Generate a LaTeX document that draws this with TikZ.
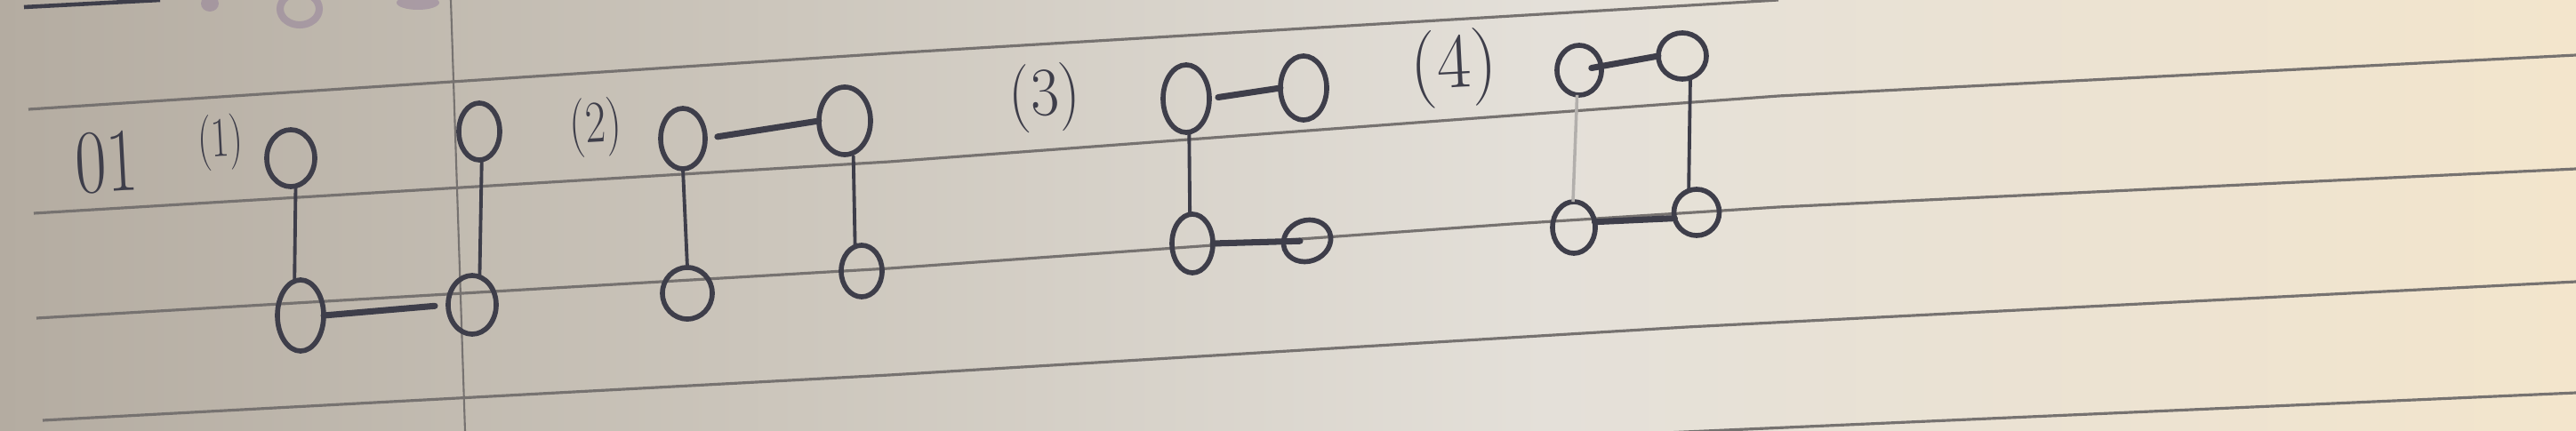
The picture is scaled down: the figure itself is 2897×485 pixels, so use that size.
\documentclass[tikz,border=0pt]{standalone}
\usetikzlibrary{shapes.geometric,calc}
\definecolor{ink}{RGB}{62,62,74}
\definecolor{faint}{RGB}{178,175,172}
\definecolor{rule}{RGB}{118,114,112}
\definecolor{pL}{RGB}{180,172,161}
\definecolor{pM1}{RGB}{204,198,188}
\definecolor{pM2}{RGB}{228,224,217}
\definecolor{pR}{RGB}{243,229,204}
\definecolor{bleed}{RGB}{140,118,150}
\pgfdeclarehorizontalshading{paper}{100bp}{color(0bp)=(pL); color(25bp)=(pL); color(40bp)=(pM1); color(55bp)=(pM2); color(75bp)=(pR); color(100bp)=(pR)}
\tikzset{
  vtx/.style={ellipse, draw=ink, line width=1.6pt, inner sep=0pt, outer sep=0pt},
  edge/.style={draw=ink, line width=1.1pt, line cap=round},
  thickedge/.style={draw=ink, line width=2pt, line cap=round},
  faintedge/.style={draw=faint, line width=1pt},
  ruled/.style={draw=rule, line width=0.9pt},
  lbl/.style={text=ink, inner sep=0pt, rotate=3},
}
\begin{document}
\begin{tikzpicture}[x=0.01cm,y=-0.01cm]
\useasboundingbox (0,0) rectangle (2897,485);
\clip (0,0) rectangle (2897,485);
\shade[shading=paper] (0,0) rectangle (2897,485);
% bleed-through from the other side
\begin{scope}[opacity=0.45]
  \draw[bleed, line width=2.3pt] (337,10) ellipse (22 and 18);
  \fill[bleed] (236,4) ellipse (10 and 9);
  \fill[bleed] (470,3) ellipse (24 and 8);
\end{scope}
% ruled lines
\draw[ruled, line width=1.3pt, draw=ink] (27,8) -- (180,0);
\draw[ruled] (32,123) -- (1000,60) -- (2000,0);
\draw[ruled] (38,240) -- (1000,182) -- (1700,130) -- (2000,108) -- (2897,62);
\draw[ruled] (41,358) -- (1000,302) -- (1700,252) -- (2000,233) -- (2897,190);
\draw[ruled] (48,473) -- (1000,422) -- (1897,368) -- (2897,317);
\draw[ruled] (1850,488) -- (2897,442);
% margin line
\draw[draw=rule, line width=0.6pt] (507,0) -- (523,485);
% labels
\node[lbl, font=\fontsize{29}{31}\selectfont, xscale=0.75] (n01) at (120,183) {01};
\node[lbl, font=\fontsize{18}{20}\selectfont, xscale=0.7] (lab1) at (248,160) {(1)};
\node[lbl, font=\fontsize{19}{21}\selectfont, xscale=0.75] (lab2) at (670,143) {(2)};
\node[lbl, font=\fontsize{22}{24}\selectfont, xscale=0.9] (lab3) at (1175,110) {(3)};
\node[lbl, font=\fontsize{25}{27}\selectfont, xscale=0.95] (lab4) at (1635,77) {(4)};
% group 1
\node[vtx, minimum width=0.54cm, minimum height=0.64cm] (tl1) at (327,178) {};
\node[vtx, minimum width=0.52cm, minimum height=0.80cm] (bl1) at (338,355) {};
\node[vtx, minimum width=0.46cm, minimum height=0.64cm] (tr1) at (539,148) {};
\node[vtx, minimum width=0.54cm, minimum height=0.66cm] (br1) at (531,343) {};
% group 2
\node[vtx, minimum width=0.50cm, minimum height=0.68cm] (tl2) at (768,156) {};
\node[vtx, minimum width=0.58cm, minimum height=0.76cm] (tr2) at (950,136) {};
\node[vtx, minimum width=0.56cm, minimum height=0.58cm] (bl2) at (773,330) {};
\node[vtx, minimum width=0.46cm, minimum height=0.58cm] (br2) at (969,305) {};
% group 3
\node[vtx, minimum width=0.52cm, minimum height=0.76cm] (tl3) at (1334,111) {};
\node[vtx, minimum width=0.52cm, minimum height=0.72cm] (tr3) at (1466,99) {};
\node[vtx, minimum width=0.46cm, minimum height=0.66cm] (bl3) at (1341,274) {};
\node[vtx, minimum width=0.54cm, minimum height=0.46cm, rotate=20] (br3) at (1470,271) {};
% group 4
\node[vtx, minimum width=0.50cm, minimum height=0.56cm] (tl4) at (1776,79) {};
\node[vtx, minimum width=0.54cm, minimum height=0.52cm] (tr4) at (1892,63) {};
\node[vtx, minimum width=0.48cm, minimum height=0.58cm] (bl4) at (1770,256) {};
\node[vtx, minimum width=0.51cm, minimum height=0.52cm] (br4) at (1908,239) {};
% connectors
\draw[edge] (tl1.-80) -- (bl1.100);
\draw[edge] (tr1.-85) -- (br1.75);
\draw[thickedge, shorten >=0.15cm] (bl1.east) -- (br1.west);
\draw[edge] (tl2.south) -- (bl2.north);
\draw[thickedge, shorten <=0.14cm] (tl2.east) -- (tr2.west);
\draw[edge, shorten <=0.04cm] (tr2.-75) -- (br2.105);
\draw[thickedge, shorten <=0.1cm] (tl3.east) -- (tr3.west);
\draw[edge] (tl3.-85) -- (bl3.95);
\draw[thickedge, shorten >=0.08cm] (bl3.east) -- (br3.center);
\draw[thickedge, shorten <=0.14cm] (tl4.center) -- (tr4.west);
\draw[edge] (tr4.-70) -- (br4.110);
\draw[thickedge] (bl4.15) -- (br4.195);
\draw[faintedge] (tl4.-95) -- (bl4.92);
\end{tikzpicture}
\end{document}
